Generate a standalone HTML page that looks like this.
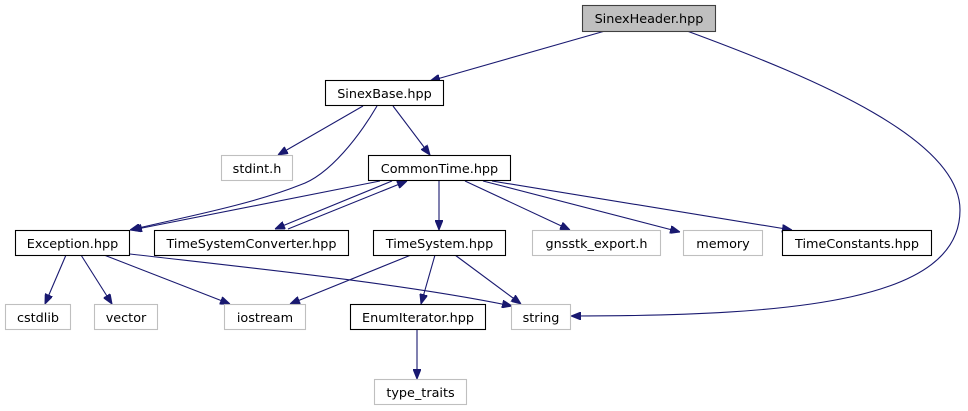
<!DOCTYPE html>
<html><head><meta charset="utf-8"><style>
html,body{margin:0;padding:0;background:#fff;}
svg{display:block;}
text{font-family:"DejaVu Sans","Liberation Sans",sans-serif;font-size:12.8px;fill:#000;text-anchor:middle;}
</style></head><body>
<svg width="968" height="411" viewBox="0 0 968 411" xmlns="http://www.w3.org/2000/svg">
<defs>
<marker id="a" viewBox="0 0 10 8" refX="10" refY="4" markerWidth="10" markerHeight="8" markerUnits="userSpaceOnUse" orient="auto">
<path d="M0,0 L10,4 L0,8 z" fill="#191970" stroke="#191970"/>
</marker>
</defs>
<g fill="none" stroke="#191970" stroke-width="1.1" marker-end="url(#a)">
<path d="M605,31 L430,81"/>
<path d="M687,31 C820,80 960,140 960,210 C960,300 800,316 571,316"/>
<path d="M363,106 L278,155"/>
<path d="M393,106 L430,155"/>
<path d="M377,106 C360,135 330,175 300,185 C250,205 180,218 130,230"/>
<path d="M380,181 L132,230"/>
<path d="M392,181 L275,229"/>
<path d="M288,229 L407,181"/>
<path d="M439,181 L439,230"/>
<path d="M465,181 L570,230"/>
<path d="M483,181 L680,232"/>
<path d="M492,181 L792,230"/>
<path d="M66,255 L45,304"/>
<path d="M81,255 L112,304"/>
<path d="M104,255 L230,304"/>
<path d="M130,254 C250,268 400,283 512,306"/>
<path d="M411,255 L290,304"/>
<path d="M435,255 L421,304"/>
<path d="M455,255 L521,304"/>
<path d="M417,330 L417,379"/>
</g>
<g stroke-width="1.1">
<rect x="582.5" y="5.5" width="133" height="26" fill="#bfbfbf" stroke="#404040"/>
<rect x="325.5" y="80.5" width="118" height="25" fill="#fff" stroke="#000"/>
<rect x="221.5" y="155.5" width="71" height="25" fill="#fff" stroke="#bfbfbf"/>
<rect x="368.5" y="155.5" width="142" height="25" fill="#fff" stroke="#000"/>
<rect x="15.5" y="230.5" width="114" height="25" fill="#fff" stroke="#000"/>
<rect x="154.5" y="230.5" width="194" height="25" fill="#fff" stroke="#000"/>
<rect x="373.5" y="230.5" width="132" height="25" fill="#fff" stroke="#000"/>
<rect x="532.5" y="230.5" width="128" height="25" fill="#fff" stroke="#bfbfbf"/>
<rect x="683.5" y="230.5" width="79" height="25" fill="#fff" stroke="#bfbfbf"/>
<rect x="782.5" y="230.5" width="149" height="25" fill="#fff" stroke="#000"/>
<rect x="5.5" y="304.5" width="65" height="25" fill="#fff" stroke="#bfbfbf"/>
<rect x="94.5" y="304.5" width="63" height="25" fill="#fff" stroke="#bfbfbf"/>
<rect x="224.5" y="304.5" width="81" height="25" fill="#fff" stroke="#bfbfbf"/>
<rect x="350.5" y="304.5" width="135" height="25" fill="#fff" stroke="#000"/>
<rect x="511.5" y="304.5" width="59" height="25" fill="#fff" stroke="#bfbfbf"/>
<rect x="374.5" y="379.5" width="92" height="25" fill="#fff" stroke="#bfbfbf"/>
</g>
<text x="649" y="23">SinexHeader.hpp</text>
<text x="384.5" y="98">SinexBase.hpp</text>
<text x="257" y="173">stdint.h</text>
<text x="439.5" y="173">CommonTime.hpp</text>
<text x="72.5" y="248">Exception.hpp</text>
<text x="251.5" y="248">TimeSystemConverter.hpp</text>
<text x="439.5" y="248">TimeSystem.hpp</text>
<text x="596.5" y="248">gnsstk_export.h</text>
<text x="723" y="248">memory</text>
<text x="857" y="248">TimeConstants.hpp</text>
<text x="38" y="322">cstdlib</text>
<text x="126" y="322">vector</text>
<text x="265" y="322">iostream</text>
<text x="418" y="322">EnumIterator.hpp</text>
<text x="541" y="322">string</text>
<text x="420.5" y="397">type_traits</text>
</svg>
</body></html>
